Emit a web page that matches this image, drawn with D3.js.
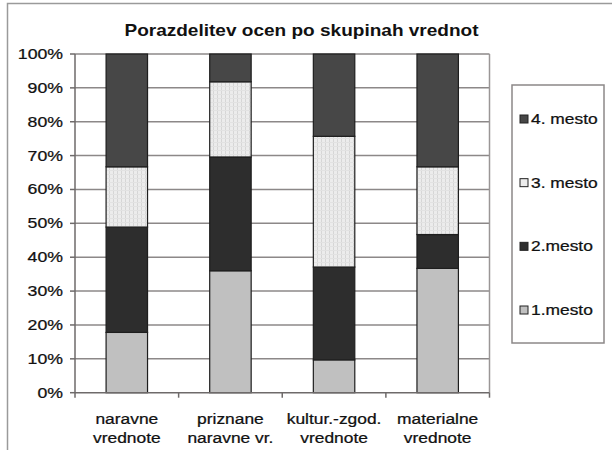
<!DOCTYPE html>
<html>
<head>
<meta charset="utf-8">
<script src="https://cdn.jsdelivr.net/npm/d3@7"></script>
<style>
  body { margin: 0; background: #fff; }
  svg { display: block; }
</style>
</head>
<body>
<div class="chart-holder"></div>
<script>
const categories = [
  ["naravne", "vrednote"],
  ["priznane", "naravne vr."],
  ["kultur.-zgod.", "vrednote"],
  ["materialne", "vrednote"]
];
const seriesNames = ["1.mesto", "2.mesto", "3. mesto", "4. mesto"];
const mesto1 = [17.8, 36.0, 9.7, 36.7];
const mesto2 = [31.1, 33.6, 27.4, 10.0];
const mesto3 = [17.8, 22.2, 38.6, 20.0];
const mesto4 = [33.3, 8.2, 24.3, 33.3];
const yTicks = [0, 10, 20, 30, 40, 50, 60, 70, 80, 90, 100];

function chart() {
  const width = 612;
  const height = 450;
  const font = "'Liberation Sans', Arial, sans-serif";

  const svg = d3.select(".chart-holder")
    .append("svg")
    .attr("width", width)
    .attr("height", height);

  // pattern for the light stippled series
  const defs = svg.append("defs");
  const pat = defs.append("pattern")
    .attr("id", "stipple")
    .attr("patternUnits", "userSpaceOnUse")
    .attr("width", 4).attr("height", 4);
  pat.append("rect").attr("width", 4).attr("height", 4).attr("fill", "#ececec");
  pat.append("rect").attr("x", 1).attr("width", 1).attr("height", 4).attr("fill", "#d6d6d6");
  pat.append("rect").attr("y", 2).attr("width", 4).attr("height", 1).attr("fill", "#e2e2e2");

  const colors = ["#c0c0c0", "#2d2d2d", "url(#stipple)", "#474747"];
  const swatch = ["#c0c0c0", "#2d2d2d", "#ececec", "#474747"];

  // outer frame
  svg.append("rect")
    .attr("x", 7.5).attr("y", 3.5)
    .attr("width", 640).attr("height", 480)
    .attr("fill", "#fff").attr("stroke", "#9a9a9a").attr("stroke-width", 1.5);

  const left = 75, right = 489.5, top = 54, bottom = 392.7;

  const rows = categories.map((c, i) => ({
    key: i, "1.mesto": mesto1[i], "2.mesto": mesto2[i], "3. mesto": mesto3[i], "4. mesto": mesto4[i]
  }));
  const stacked = d3.stack().keys(seriesNames)(rows);

  const x = d3.scaleBand()
    .domain(categories.map((c, i) => i))
    .range([left, right])
    .paddingInner(0.6)
    .paddingOuter(0.3);
  const xEdge = d3.scaleLinear().domain([0, categories.length]).range([left, right]);
  const y = d3.scaleLinear().domain([0, 100]).range([bottom, top]);

  function label(g, tx, ty, str, size, anchor, weight, sx) {
    g.append("text")
      .attr("transform", `translate(${tx},${ty}) scale(${sx},1)`)
      .attr("text-anchor", anchor)
      .attr("font-family", font)
      .attr("font-size", size)
      .attr("font-weight", weight)
      .attr("fill", "#111")
      .attr("stroke", "#111")
      .attr("stroke-width", weight === "bold" ? 0 : 0.25)
      .text(str);
  }

  // gridlines
  svg.append("g").selectAll("line")
    .data(yTicks.filter(d => d > 0))
    .join("line")
    .attr("x1", left).attr("x2", right)
    .attr("y1", d => y(d)).attr("y2", d => y(d))
    .attr("stroke", "#8c8888").attr("stroke-width", 1.5);

  // right border of plot
  svg.append("line")
    .attr("x1", right).attr("x2", right).attr("y1", top).attr("y2", bottom)
    .attr("stroke", "#9a9696").attr("stroke-width", 1.5);

  // bars
  svg.append("g").selectAll("g")
    .data(stacked)
    .join("g")
    .attr("fill", (d, i) => colors[i])
    .selectAll("rect")
    .data(d => d)
    .join("rect")
    .attr("x", d => x(d.data.key))
    .attr("width", x.bandwidth())
    .attr("y", d => y(d[1]))
    .attr("height", d => y(d[0]) - y(d[1]))
    .attr("stroke", "#1e1e1e")
    .attr("stroke-width", 1.2);

  // y axis
  const yAxis = svg.append("g");
  yAxis.append("line")
    .attr("x1", left).attr("x2", left).attr("y1", top).attr("y2", bottom)
    .attr("stroke", "#6e6a6a").attr("stroke-width", 1.5);
  yAxis.selectAll("line.tick")
    .data(yTicks)
    .join("line")
    .attr("class", "tick")
    .attr("x1", left - 5).attr("x2", left)
    .attr("y1", d => y(d)).attr("y2", d => y(d))
    .attr("stroke", "#6e6a6a").attr("stroke-width", 1.5);
  yTicks.forEach(t => label(yAxis, 63, y(t) + 5, t + "%", 14.5, "end", "normal", 1.22));

  // x axis
  const xAxis = svg.append("g");
  xAxis.append("line")
    .attr("x1", left).attr("x2", right).attr("y1", bottom).attr("y2", bottom)
    .attr("stroke", "#6e6a6a").attr("stroke-width", 1.5);
  xAxis.selectAll("line.tick")
    .data(d3.range(categories.length + 1))
    .join("line")
    .attr("class", "tick")
    .attr("x1", d => xEdge(d)).attr("x2", d => xEdge(d))
    .attr("y1", bottom).attr("y2", bottom + 5)
    .attr("stroke", "#6e6a6a").attr("stroke-width", 1.5);
  categories.forEach((c, i) => {
    const cx = x(i) + x.bandwidth() / 2;
    label(xAxis, cx, 424, c[0], 14.5, "middle", "normal", 1.2);
    label(xAxis, cx, 443, c[1], 14.5, "middle", "normal", 1.2);
  });

  // title
  label(svg, 301.5, 36, "Porazdelitev ocen po skupinah vrednot", 17, "middle", "bold", 1.12);

  // legend
  const lg = svg.append("g");
  lg.append("rect")
    .attr("x", 512).attr("y", 85).attr("width", 92).attr("height", 258)
    .attr("fill", "#fff").attr("stroke", "#8c8888").attr("stroke-width", 1.5);
  const legendY = d3.scalePoint().domain(seriesNames.slice().reverse()).range([119, 310]);
  seriesNames.forEach((s, i) => {
    const ly = legendY(s);
    lg.append("rect")
      .attr("x", 520).attr("y", ly - 4).attr("width", 8).attr("height", 8)
      .attr("fill", swatch[i]).attr("stroke", "#222").attr("stroke-width", 1);
    label(lg, 531, ly + 5, s, 14.5, "start", "normal", 1.2);
  });
}

chart();
</script>
</body>
</html>
